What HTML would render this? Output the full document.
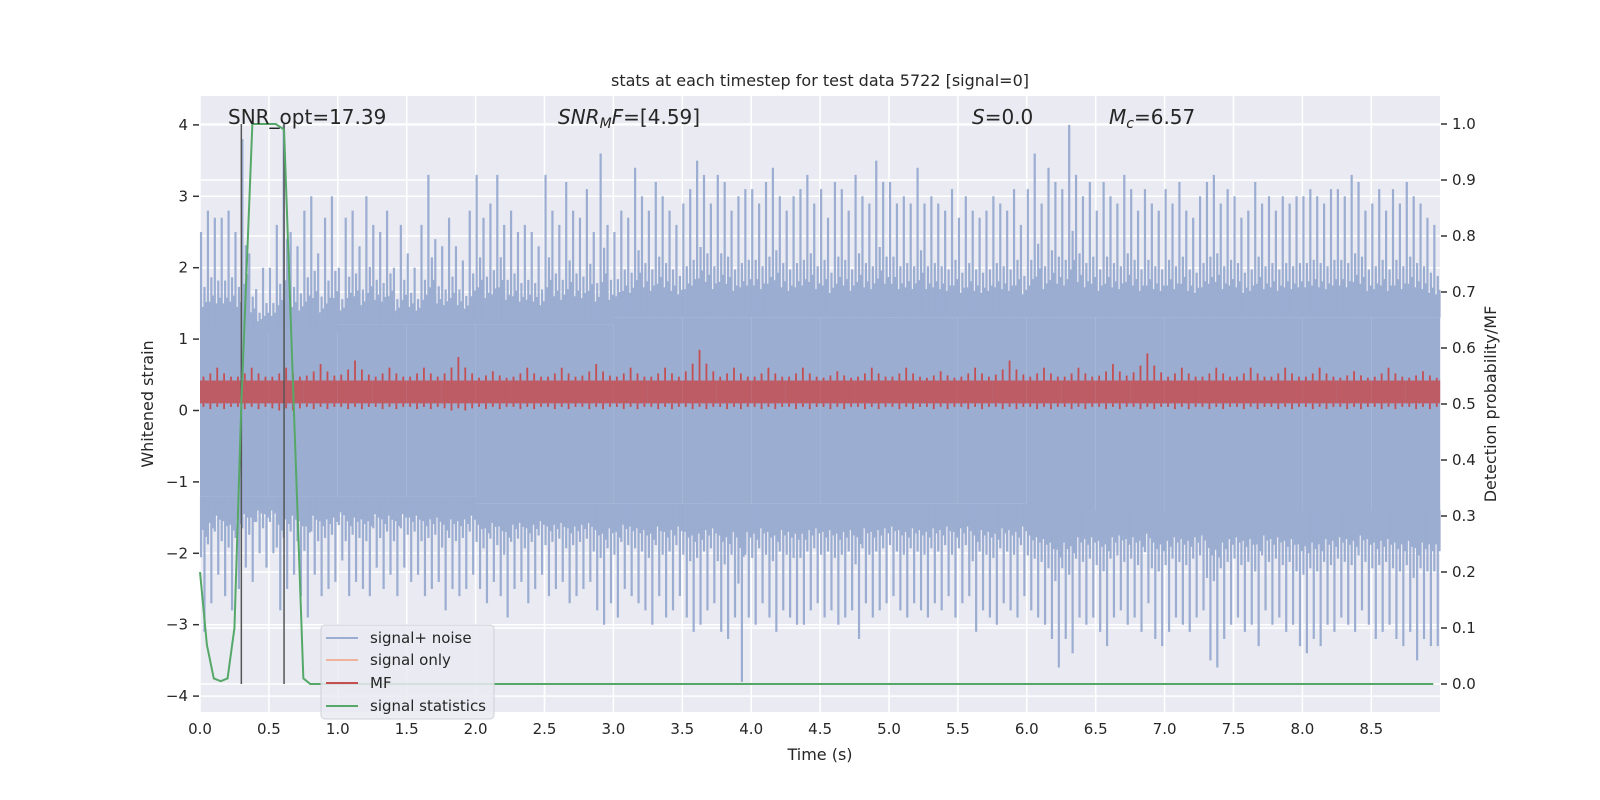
<!DOCTYPE html>
<html><head><meta charset="utf-8"><style>
body{margin:0;background:#fff;}
svg{display:block;font-family:"DejaVu Sans","Liberation Sans",sans-serif;}
</style></head><body>
<svg id="chart" width="1600" height="800" viewBox="0 0 1600 800">
<rect x="200" y="96" width="1240" height="616" fill="#eaeaf2"/>
<g id="grid"></g><g id="marks"></g><g id="axes"></g>
<text x="820" y="86" text-anchor="middle" font-size="16" fill="#262626">stats at each timestep for test data 5722 [signal=0]</text>
<text x="228" y="124" font-size="20" fill="#262626">SNR_opt=17.39</text>
<text x="558" y="124" font-size="20" fill="#262626"><tspan font-style="italic">SNR</tspan><tspan font-style="italic" font-size="14" dy="4">M</tspan><tspan font-style="italic" dy="-4">F</tspan>=[4.59]</text>
<text x="972" y="124" font-size="20" fill="#262626"><tspan font-style="italic">S</tspan>=0.0</text>
<text x="1109" y="124" font-size="20" fill="#262626"><tspan font-style="italic">M</tspan><tspan font-style="italic" font-size="14" dy="4">c</tspan><tspan dy="-4">=6.57</tspan></text>
<text x="820" y="760" text-anchor="middle" font-size="16" fill="#262626">Time (s)</text>
<text transform="translate(153,404) rotate(-90)" text-anchor="middle" font-size="16" fill="#262626">Whitened strain</text>
<text transform="translate(1496,404) rotate(-90)" text-anchor="middle" font-size="16" fill="#262626">Detection probability/MF</text>
<g>
<rect x="321" y="625" width="173" height="94" rx="4" fill="#eaeaf2" fill-opacity="0.85" stroke="#d0d0d8"/>
<g><line x1="326" y1="638" x2="358" y2="638" stroke="#9badd1" stroke-width="2"/><text x="370" y="643" font-size="15" fill="#262626">signal+ noise</text></g>
<g><line x1="326" y1="660" x2="358" y2="660" stroke="#eeb39a" stroke-width="2"/><text x="370" y="665" font-size="15" fill="#262626">signal only</text></g>
<g><line x1="326" y1="683" x2="358" y2="683" stroke="#c44e52" stroke-width="2"/><text x="370" y="688" font-size="15" fill="#262626">MF</text></g>
<g><line x1="326" y1="706" x2="358" y2="706" stroke="#55a868" stroke-width="2"/><text x="370" y="711" font-size="15" fill="#262626">signal statistics</text></g>
</g>
</svg>
<script>
const noiseMax=[2.5,2.8,2.7,2.7,2.8,2.5,3.8,2.2,1.7,2.0,2.0,2.6,4.0,2.5,2.3,2.8,3.0,2.2,2.7,3.0,
2.0,2.7,2.8,2.3,3.0,2.6,2.5,2.8,2.0,2.6,2.2,2.0,2.6,3.3,2.4,2.3,2.7,2.3,2.1,2.8,
3.3,2.7,2.9,3.3,2.6,2.8,2.5,2.6,2.5,2.3,3.3,2.8,2.6,3.2,2.8,2.7,3.1,2.5,3.6,2.6,
2.5,2.8,2.7,3.4,3.0,2.8,3.2,3.0,2.8,2.6,2.9,3.1,3.5,3.3,2.9,3.3,3.2,2.8,3.0,3.1,
3.1,2.9,3.2,3.4,3.0,2.8,3.0,3.1,3.3,2.9,3.1,2.7,3.2,3.1,2.8,3.3,3.0,2.9,3.5,3.2,
3.2,2.9,3.0,2.9,3.4,2.9,3.0,2.9,2.8,3.1,2.7,3.0,2.8,2.7,2.8,3.0,2.9,2.8,3.1,2.6,
3.1,3.6,2.9,3.4,3.2,3.1,4.0,3.3,3.0,3.2,2.8,3.2,3.0,2.9,3.3,3.1,2.8,3.1,2.9,2.8,
3.1,2.9,3.2,2.8,2.7,3.0,3.2,3.3,2.9,3.1,3.0,2.7,2.8,3.2,2.9,3.0,2.8,3.0,2.9,3.0,
3.0,3.1,3.0,2.9,3.1,3.1,3.0,3.3,3.2,2.8,2.9,3.1,2.8,3.1,2.9,3.2,3.0,2.9,2.7,2.6];
const noiseMin=[-3.1,-2.7,-2.3,-2.6,-2.8,-2.5,-2.2,-2.4,-2.0,-2.2,-2.0,-2.8,-2.5,-2.3,-2.6,-2.9,-2.3,-2.6,-2.5,-2.4,
-2.1,-2.6,-2.4,-2.5,-2.6,-2.2,-2.5,-2.3,-2.6,-2.2,-2.4,-2.3,-2.6,-2.5,-2.4,-2.8,-2.5,-2.6,-2.5,-2.3,
-2.5,-2.7,-2.4,-2.6,-2.9,-2.5,-2.4,-2.7,-2.5,-2.3,-2.6,-2.5,-2.4,-2.7,-2.6,-2.5,-2.4,-2.8,-3.0,-2.7,
-2.9,-2.5,-2.6,-2.7,-2.8,-3.0,-2.6,-2.9,-2.8,-2.6,-2.9,-3.1,-3.0,-2.8,-2.7,-3.1,-3.2,-2.9,-3.8,-2.9,
-3.0,-2.7,-2.9,-3.1,-2.8,-2.9,-3.0,-3.0,-2.8,-2.7,-2.9,-2.8,-3.0,-2.9,-2.8,-3.2,-2.7,-2.9,-2.8,-2.7,
-2.6,-2.8,-2.9,-2.7,-2.8,-2.9,-2.7,-2.8,-2.6,-2.9,-2.7,-2.6,-3.1,-2.8,-2.9,-3.0,-2.7,-2.8,-2.9,-2.6,
-2.8,-2.9,-3.0,-3.2,-3.6,-3.2,-3.4,-2.9,-3.0,-2.9,-3.1,-3.3,-2.9,-2.8,-3.0,-2.9,-3.1,-2.7,-3.2,-3.3,
-3.1,-2.9,-3.0,-3.1,-2.9,-2.8,-3.5,-3.6,-3.2,-3.0,-2.9,-3.1,-3.0,-3.3,-2.8,-3.0,-2.9,-3.1,-3.0,-3.3,
-3.4,-3.2,-3.3,-3.0,-3.1,-2.9,-3.0,-3.1,-2.8,-3.0,-3.2,-3.1,-3.0,-3.2,-3.3,-3.1,-3.5,-3.2,-3.3,-3.3];
const coreTop=[1.1,1.1,1.2,1.2,1.2,1.2,1.3,1.3,1.3,1.3,1.3,1.3,1.3,1.3,1.3,1.3,1.3,1.3];
const coreBot=[-1.2,-1.2,-1.2,-1.2,-1.3,-1.3,-1.3,-1.3,-1.3,-1.3,-1.3,-1.3,-1.4,-1.4,-1.4,-1.4,-1.4,-1.4];
const mfTop=[0.6,0.6,0.6,0.65,0.7,0.6,0.6,0.75,0.55,0.6,0.6,0.65,0.6,0.6,0.85,0.6,0.6,0.6,0.55,0.6,0.6,0.55,0.6,0.7,0.6,0.6,0.65,0.8,0.6,0.6,0.6,0.6,0.6,0.55,0.6,0.55];
const mfBot=[0.0,0.0,-0.02,0.0,0.0,0.0,0.0,-0.02,0.0,0.0,0.0,0.0,0.0,0.0,0.0,0.0,0.0,0.0,0.0,0.0,0.0,0.0,0.0,0.0,0.0,0.0,0.0,0.0,0.0,0.0,0.0,0.0,0.0,0.0,0.0,0.0];
const statT=[0,0.05,0.1,0.15,0.2,0.25,0.3,0.38,0.45,0.5,0.55,0.61,0.68,0.75,0.8,8.95];
const statV=[0.2,0.07,0.01,0.005,0.01,0.1,0.5,1.0,1.0,1.0,1.0,0.99,0.5,0.01,0,0];
const markerT=[0.3,0.61];
const xTicks=[0,0.5,1,1.5,2,2.5,3,3.5,4,4.5,5,5.5,6,6.5,7,7.5,8,8.5];
const yTicks=[-4,-3,-2,-1,0,1,2,3,4];
const y2Ticks=[0,0.1,0.2,0.3,0.4,0.5,0.6,0.7,0.8,0.9,1.0];

const NS="http://www.w3.org/2000/svg";
const X=t=>200+t*137.8, Y=v=>410.5-v*71.4, Y2=p=>684-p*560;
function mk(tag,attrs,parent){const e=document.createElementNS(NS,tag);for(const k in attrs)e.setAttribute(k,attrs[k]);parent.appendChild(e);return e;}
const grid=document.getElementById('grid'),marks=document.getElementById('marks'),axes=document.getElementById('axes');
xTicks.forEach(t=>{const g=mk('line',{x1:X(t),x2:X(t),y1:96,y2:712,stroke:'#fff','stroke-width':1.5},grid);

const l=mk('text',{x:X(t),y:734,'text-anchor':'middle','font-size':15,fill:'#262626'},axes);l.textContent=t.toFixed(1);
});
yTicks.forEach(v=>{const g=mk('line',{x1:200,x2:1440,y1:Y(v),y2:Y(v),stroke:'#fff','stroke-width':1.5},grid);

mk('line',{x1:193,x2:199,y1:Y(v),y2:Y(v),stroke:'#333','stroke-width':1.5},axes);
const l=mk('text',{x:188,y:Y(v)+5,'text-anchor':'end','font-size':15,fill:'#262626'},axes);l.textContent=(v<0?'\u2212'+(-v):v);
});
y2Ticks.forEach(p=>{const g=mk('line',{x1:200,x2:1440,y1:Y2(p),y2:Y2(p),stroke:'#fff','stroke-width':1.5},grid);

mk('line',{x1:1441,x2:1447,y1:Y2(p),y2:Y2(p),stroke:'#333','stroke-width':1.5},axes);
const l=mk('text',{x:1452,y:Y2(p)+5,'font-size':15,fill:'#262626'},axes);l.textContent=p.toFixed(1);
});
// noise
const bw=0.05;
coreTop.forEach((v,i)=>{const r=mk('rect',{x:X(i*0.5),y:Y(v),width:X(0.5)-X(0),height:Y(coreBot[i])-Y(v),fill:'#9badd1'},marks);
});
noiseMax.forEach((v,i)=>{const c=Math.floor(i*bw/0.5);const ct=coreTop[c],cb=coreBot[c];
const x1=X(i*bw+bw*0.15),x2=X(i*bw+bw*0.4),x3=X(i*bw+bw*0.65),x4=X(i*bw+bw*0.9);
const a=mk('line',{x1:x1,x2:x1,y1:Y(ct),y2:Y(v),stroke:'#9badd1','stroke-width':2.2},marks);

const m=mk('line',{x1:x3,x2:x3,y1:Y(ct),y2:Y(ct+(v-ct)*0.45),stroke:'#9badd1','stroke-width':2.2},marks);

const m2=mk('line',{x1:x2,x2:x2,y1:Y(ct),y2:Y(ct+(v-ct)*0.25),stroke:'#9badd1','stroke-width':2.2},marks);

const m3=mk('line',{x1:x4,x2:x4,y1:Y(ct),y2:Y(ct+(v-ct)*0.3),stroke:'#9badd1','stroke-width':2.2},marks);

const b=mk('line',{x1:x3,x2:x3,y1:Y(cb),y2:Y(noiseMin[i]),stroke:'#9badd1','stroke-width':2.2},marks);

const b2=mk('line',{x1:x1,x2:x1,y1:Y(cb),y2:Y(cb+(noiseMin[i]-cb)*0.45),stroke:'#9badd1','stroke-width':2.2},marks);

const b3=mk('line',{x1:x2,x2:x2,y1:Y(cb),y2:Y(cb+(noiseMin[i]-cb)*0.25),stroke:'#9badd1','stroke-width':2.2},marks);

const b4=mk('line',{x1:x4,x2:x4,y1:Y(cb),y2:Y(cb+(noiseMin[i]-cb)*0.3),stroke:'#9badd1','stroke-width':2.2},marks);
});
// MF
const mw=0.25;
mfTop.forEach((v,i)=>{const r=mk('rect',{x:X(i*mw),y:Y(0.42),width:X(mw)-X(0),height:Y(0.1)-Y(0.42),fill:'#c44e52',opacity:0.85},marks);

[0.1,0.3,0.5,0.7,0.9].forEach((f,k)=>{const xs=X(i*mw+mw*f);const top=(k===2)?v:(0.42+(v-0.42)*(k%2?0.55:0.3));
const s=mk('line',{x1:xs,x2:xs,y1:Y(0.42),y2:Y(top),stroke:'#c44e52','stroke-width':1.8},marks);

const s3=mk('line',{x1:xs,x2:xs,y1:Y(0.1),y2:Y(mfBot[i]+(k%2?0.02:0.05)),stroke:'#c44e52','stroke-width':1.8},marks);
});});
// markers
markerT.forEach(t=>{const l=mk('line',{x1:X(t),x2:X(t),y1:Y2(0),y2:Y2(1),stroke:'#555','stroke-width':1.5},marks);
});
// stats
const p=mk('polyline',{points:statT.map((t,i)=>X(t)+','+Y2(statV[i])).join(' '),fill:'none',stroke:'#55a868','stroke-width':2},marks);

</script>
</body></html>
